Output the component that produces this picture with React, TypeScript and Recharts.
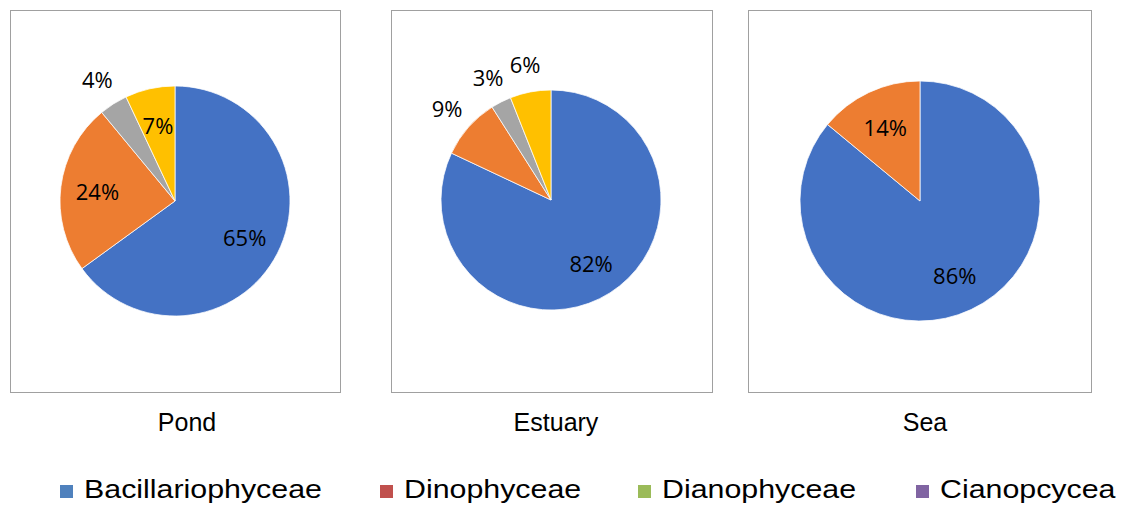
import React from 'react';
import { PieChart, Pie, Cell } from 'recharts';

const categories = ['Bacillariophyceae', 'Dinophyceae', 'Dianophyceae', 'Cianopcycea'];
const pondValues = [65, 24, 4, 7];
const estuaryValues = [82, 9, 3, 6];
const seaValues = [86, 14];
const panelTitles = ['Pond', 'Estuary', 'Sea'];

const sliceColors = ['#4472C4', '#ED7D31', '#A5A5A5', '#FFC000'];
const legendColors = ['#4F81BD', '#C0504D', '#9BBB59', '#8064A2'];

// label placement style: true = outside the pie
const pondOutside = [false, false, true, false];
const estuaryOutside = [false, true, true, true];
const seaOutside = [false, false];

const RAD = Math.PI / 180;
const FONT_LABEL = '"Open Sans", "Noto Sans", sans-serif';
const FONT_TEXT = '"Liberation Sans", Arial, sans-serif';

const makeLabel = (outside: boolean[]) => (props: any) => {
  const { cx, cy, midAngle, outerRadius, value, index } = props;
  const f = outside[index] ? 1.26 : 0.68;
  const r = outerRadius * f;
  const x = cx + r * Math.cos(-midAngle * RAD);
  const y = cy + r * Math.sin(-midAngle * RAD);
  return (
    <text
      x={x}
      y={y}
      fill="#000"
      textAnchor="middle"
      dominantBaseline="central"
      fontFamily={FONT_LABEL}
      fontSize={22}
    >
      {`${value}%`}
    </text>
  );
};

const toData = (vals: number[]) => vals.map((v, i) => ({ name: categories[i], value: v }));

const panels = [
  { values: pondValues, outside: pondOutside, left: 10, width: 331, cx: 164, cy: 190, r: 115, titleX: 187 },
  { values: estuaryValues, outside: estuaryOutside, left: 391, width: 322, cx: 159, cy: 189, r: 110, titleX: 556 },
  { values: seaValues, outside: seaOutside, left: 748, width: 344, cx: 171, cy: 190, r: 120, titleX: 925 },
];

const legendTextX = [84, 404, 662, 940];

export default function App() {
  return (
    <div style={{ position: 'absolute', left: 0, top: 0, width: 1124, height: 507, background: '#fff' }}>
      {panels.map((p, k) => (
        <div
          key={k}
          style={{
            position: 'absolute',
            left: p.left,
            top: 10,
            width: p.width,
            height: 383,
            border: '1px solid #A0A0A0',
            boxSizing: 'border-box',
          }}
        >
          <PieChart width={p.width - 2} height={381} margin={{ top: 0, right: 0, bottom: 0, left: 0 }}>
            <Pie
              data={toData(p.values)}
              dataKey="value"
              nameKey="name"
              cx={p.cx}
              cy={p.cy}
              outerRadius={p.r}
              startAngle={90}
              endAngle={-270}
              stroke="#ffffff"
              strokeWidth={0.75}
              label={makeLabel(p.outside)}
              labelLine={false}
              isAnimationActive={false}
            >
              {p.values.map((_, i) => (
                <Cell key={i} fill={sliceColors[i]} />
              ))}
            </Pie>
          </PieChart>
        </div>
      ))}
      <svg width={1124} height={507} style={{ position: 'absolute', left: 0, top: 0, pointerEvents: 'none' }}>
        {panels.map((p, k) => (
          <text key={k} x={p.titleX} y={431} textAnchor="middle" fontFamily={FONT_TEXT} fontSize={25} fill="#000">
            {panelTitles[k]}
          </text>
        ))}
        {categories.map((c, i) => (
          <g key={c}>
            <rect x={legendTextX[i] - 24} y={485} width={13} height={13} fill={legendColors[i]} />
            <text
              transform={`translate(${legendTextX[i]},498) scale(1.215,1)`}
              fontFamily={FONT_TEXT}
              fontSize={25}
              fill="#000"
            >
              {c}
            </text>
          </g>
        ))}
      </svg>
    </div>
  );
}
